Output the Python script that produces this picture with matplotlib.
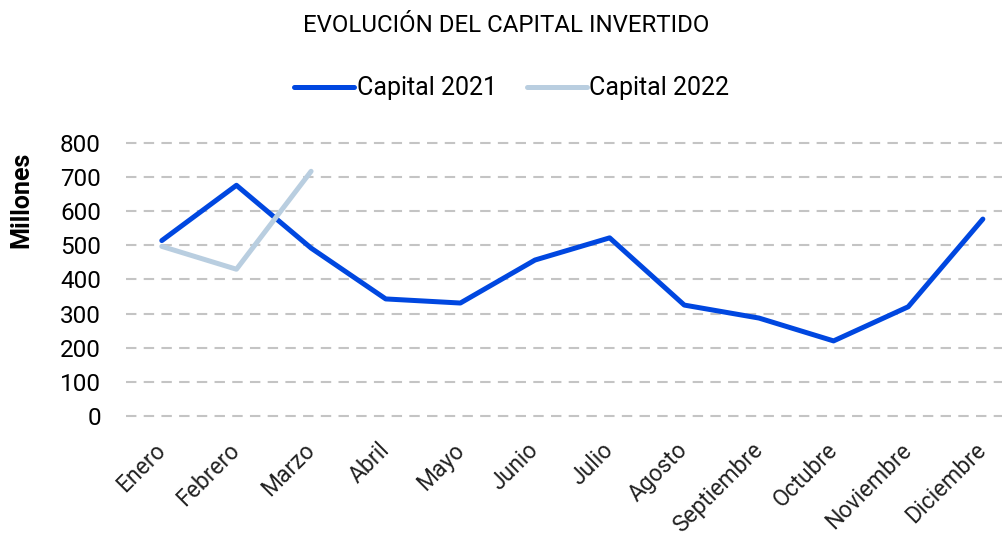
import numpy as np
import matplotlib.pyplot as plt

meses = ['Enero', 'Febrero', 'Marzo', 'Abril', 'Mayo', 'Junio', 'Julio',
         'Agosto', 'Septiembre', 'Octubre', 'Noviembre', 'Diciembre']
capital_2021 = [514, 676, 492, 343, 331, 457, 522, 325, 287, 220, 320, 577]
capital_2022 = [497, 430, 717]
yticks = [0, 100, 200, 300, 400, 500, 600, 700, 800]

plt.rcParams['font.family'] = ['Roboto', 'DejaVu Sans']

fig = plt.figure(figsize=(10.03, 5.42), dpi=100)
ax = fig.add_axes([0.1256, 0.2325, 0.8744, 0.5037])

x = np.arange(len(meses))
ax.plot(x, capital_2021, color='#0047E0', lw=3.6, solid_capstyle='round',
        label='Capital 2021')
ax.plot(x[:len(capital_2022)], capital_2022, color='#B9CEE0', lw=3.6,
        solid_capstyle='round', label='Capital 2022')

ax.set_ylim(0, 800)
ax.set_xlim(-0.48, 11.27)
ax.set_yticks(yticks)
ax.set_yticklabels([str(v) for v in yticks], fontsize=17.5)
ax.set_xticks(x)
ax.set_xticklabels(meses, rotation=45, ha='right', va='center',
                   rotation_mode='anchor', fontsize=16.5, color='#222222')
ax.tick_params(length=0)
ax.tick_params(axis='y', pad=18)
ax.tick_params(axis='x', pad=22)

for v in yticks:
    ax.axhline(v, color='#C4C4C4', lw=1.5, ls=(0, (5, 3.5)), zorder=0,
               clip_on=False)

for s in ax.spines.values():
    s.set_visible(False)

ax.set_ylabel('Millones', fontsize=18, fontweight='bold')
ax.yaxis.set_label_coords(-0.106, 0.79)

fig.text(0.505, 0.953, 'EVOLUCIÓN DEL CAPITAL INVERTIDO', ha='center',
         va='center', fontsize=17.3)
fig.legend(loc='center', bbox_to_anchor=(0.51, 0.837), ncol=2, frameon=False,
           fontsize=18, handlelength=2.4, handletextpad=0.1, columnspacing=1.2)

plt.savefig('out.png')
